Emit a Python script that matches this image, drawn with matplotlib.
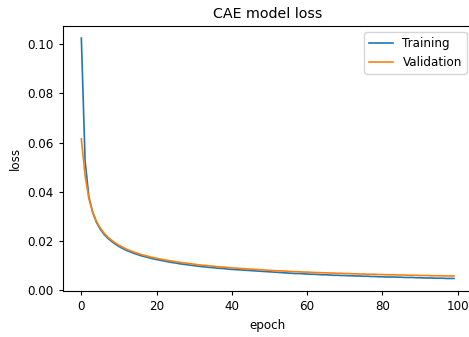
import matplotlib
matplotlib.use("Agg")
import matplotlib.pyplot as plt

# loss values, one per epoch
training_loss = [
    0.1025, 0.0525, 0.0380, 0.0316, 0.0276, 0.0248, 0.0227, 0.0211, 0.0198, 0.0187,
    0.0177, 0.0169, 0.0161, 0.0155, 0.0149, 0.0144, 0.0139, 0.0135, 0.0131, 0.0127,
    0.0124, 0.0121, 0.0118, 0.0115, 0.0112, 0.0110, 0.0107, 0.0105, 0.0103, 0.0101,
    0.0099, 0.0097, 0.0095, 0.0094, 0.0092, 0.0091, 0.0089, 0.0088, 0.0087, 0.0085,
    0.0084, 0.0083, 0.0082, 0.0081, 0.0080, 0.0079, 0.0078, 0.0077, 0.0076, 0.0075,
    0.0074, 0.0073, 0.0072, 0.0071, 0.0070, 0.0069, 0.0068, 0.0067, 0.0067, 0.0066,
    0.0065, 0.0064, 0.0064, 0.0063, 0.0062, 0.0062, 0.0061, 0.0060, 0.0060, 0.0059,
    0.0059, 0.0058, 0.0058, 0.0057, 0.0057, 0.0056, 0.0056, 0.0055, 0.0055, 0.0054,
    0.0054, 0.0053, 0.0053, 0.0053, 0.0052, 0.0052, 0.0051, 0.0051, 0.0051, 0.0050,
    0.0050, 0.0049, 0.0049, 0.0049, 0.0048, 0.0048, 0.0048, 0.0047, 0.0047, 0.0047,
]
validation_loss = [
    0.0615, 0.0465, 0.0372, 0.0318, 0.0280, 0.0253, 0.0232, 0.0216, 0.0203, 0.0192,
    0.0182, 0.0174, 0.0166, 0.0160, 0.0154, 0.0149, 0.0144, 0.0140, 0.0136, 0.0132,
    0.0129, 0.0126, 0.0123, 0.0120, 0.0118, 0.0115, 0.0113, 0.0111, 0.0109, 0.0107,
    0.0105, 0.0103, 0.0101, 0.0100, 0.0098, 0.0097, 0.0095, 0.0094, 0.0093, 0.0091,
    0.0090, 0.0089, 0.0088, 0.0087, 0.0086, 0.0085, 0.0084, 0.0083, 0.0082, 0.0081,
    0.0080, 0.0079, 0.0078, 0.0078, 0.0077, 0.0076, 0.0075, 0.0075, 0.0074, 0.0073,
    0.0073, 0.0072, 0.0071, 0.0071, 0.0070, 0.0070, 0.0069, 0.0069, 0.0068, 0.0068,
    0.0067, 0.0067, 0.0066, 0.0066, 0.0065, 0.0065, 0.0064, 0.0064, 0.0064, 0.0063,
    0.0063, 0.0062, 0.0062, 0.0062, 0.0061, 0.0061, 0.0061, 0.0060, 0.0060, 0.0060,
    0.0059, 0.0059, 0.0059, 0.0058, 0.0058, 0.0058, 0.0058, 0.0057, 0.0057, 0.0057,
]
series_labels = ["Training", "Validation"]

fs = 8.6
fig = plt.figure(figsize=(4.69, 3.37), dpi=100)
# axes runs a little past the right edge, as in the cropped original
ax = fig.add_axes([0.1337, 0.1365, 0.874, 0.7863])

ax.plot(training_loss, lw=1.2, label=series_labels[0])
ax.plot(validation_loss, lw=1.2, label=series_labels[1])

ax.set_ylim(-0.0004, 0.1074)
ax.set_title("CAE model loss", fontsize=10.3)
ax.set_xlabel("epoch", fontsize=fs)
ax.set_ylabel("loss", fontsize=fs)
ax.tick_params(labelsize=fs, length=3)
ax.legend(loc="upper right", fontsize=fs)

fig.savefig("out.png", dpi=100)
